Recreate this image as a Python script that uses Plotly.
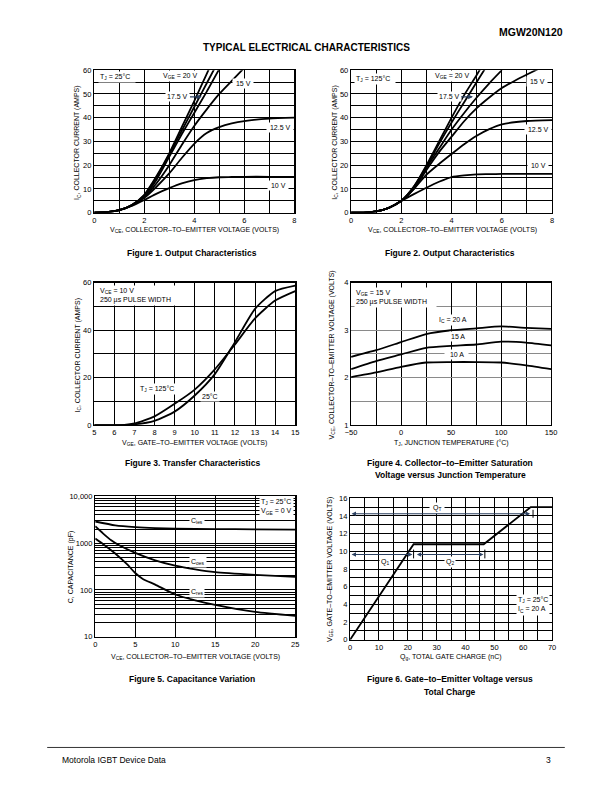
import plotly.graph_objects as go

W, H = 612, 792
FONT = "Liberation Sans Narrow, Liberation Sans, Arial, sans-serif"

# ---------------- Figure 1 data (TJ = 25 C) ----------------
f1_v_full = [0, 0.5, 1.0, 1.5, 2.0, 2.5, 3.0, 3.5, 4.0, 4.5, 5.0, 5.5, 6.0, 7.0, 8.0]
f1_10v = [0, 0.2, 1.0, 2.8, 5.3, 8.0, 10.3, 12.3, 13.7, 14.5, 14.9, 15.0, 15.1, 15.1, 15.1]
f1_12v5 = [0, 0.2, 1.0, 3.0, 6.2, 11.0, 16.5, 23.0, 29.0, 33.5, 36.0, 37.6, 38.6, 39.6, 40.0]
f1_v_15 = [0, 0.5, 1.0, 1.5, 2.0, 2.5, 3.0, 3.5, 4.0, 4.5, 5.0, 5.5, 6.0]
f1_15v = [0, 0.2, 1.0, 3.0, 6.5, 12.5, 20.0, 28.5, 36.5, 43.5, 50.0, 55.5, 61.0]
f1_v_top = [0, 0.5, 1.0, 1.5, 2.0, 2.5, 3.0, 3.5, 4.0, 4.5, 5.0]
f1_17v5 = [0, 0.2, 1.0, 3.1, 7.0, 14.0, 23.5, 33.0, 42.0, 51.0, 60.5]
f1_17v5b = [0, 0.2, 1.0, 3.2, 7.3, 15.0, 24.5, 34.5, 44.5, 54.5, 64.5]
f1_20v = [0, 0.2, 1.0, 3.2, 7.5, 15.5, 25.0, 36.0, 47.0, 58.5, 70.0]

# ---------------- Figure 2 data (TJ = 125 C) ----------------
f2_v_full = [0, 0.5, 1.0, 1.5, 2.0, 2.5, 3.0, 3.5, 4.0, 4.5, 5.0, 5.5, 6.0, 7.0, 8.0]
f2_10v = [0, 0.0, 0.5, 2.0, 5.0, 7.8, 10.5, 13.0, 15.0, 15.7, 16.1, 16.2, 16.3, 16.3, 16.3]
f2_12v5 = [0, 0.0, 0.5, 2.0, 5.0, 10.0, 16.0, 20.5, 24.7, 28.8, 32.4, 35.2, 37.2, 38.6, 39.0]
f2_v_15 = [0, 0.5, 1.0, 1.5, 2.0, 2.5, 3.0, 3.5, 4.0, 4.5, 5.0, 5.5, 6.0, 6.5, 7.0, 7.5]
f2_15v = [0, 0.0, 0.5, 2.0, 5.0, 10.0, 18.0, 25.5, 32.0, 38.5, 44.0, 48.5, 52.5, 55.5, 58.2, 60.8]
f2_v_top = [0, 0.5, 1.0, 1.5, 2.0, 2.5, 3.0, 3.5, 4.0, 4.5, 5.0, 5.5, 6.0]
f2_17v5 = [0, 0.0, 0.5, 2.0, 5.0, 10.5, 19.0, 27.0, 35.0, 42.0, 48.5, 54.5, 60.0]
f2_17v5b = [0, 0.0, 0.5, 2.0, 5.0, 11.0, 19.5, 29.0, 38.0, 46.5, 55.0, 63.5, 72.0]
f2_20v = [0, 0.0, 0.5, 2.0, 5.0, 11.0, 20.0, 30.0, 40.0, 49.5, 58.0, 67.0, 76.0]

# ---------------- Figure 3 data (transfer) ----------------
f3_vge = [5, 6, 6.5, 7, 8, 9, 10, 11, 12, 13, 14, 15]
f3_25c = [0, 0, 0.05, 0.3, 1.8, 5.7, 12.5, 21.5, 35.0, 49.0, 56.5, 58.8]
f3_125c = [0, 0, 0.1, 0.7, 3.7, 9.0, 15.0, 23.5, 34.0, 45.0, 52.5, 56.5]

# ---------------- Figure 4 data (VCE(sat) vs TJ) ----------------
f4_tj = [-50, -25, 0, 25, 50, 75, 100, 125, 150]
f4_20a = [2.44, 2.58, 2.75, 2.92, 3.00, 3.04, 3.08, 3.05, 3.03]
f4_15a = [2.18, 2.35, 2.49, 2.63, 2.67, 2.70, 2.76, 2.74, 2.68]
f4_10a = [2.01, 2.11, 2.23, 2.32, 2.33, 2.33, 2.32, 2.26, 2.18]

# ---------------- Figure 5 data (capacitance) ----------------
f5_vce_ies = [0, 2.5, 5, 7.5, 10, 15, 20, 25]
f5_cies = [2900, 2400, 2200, 2100, 2050, 2000, 1970, 1950]
f5_vce_oes = [0, 1, 2, 3, 5, 7.5, 10, 12.5, 15, 20, 25]
f5_coes = [2300, 1600, 1150, 900, 620, 430, 330, 275, 240, 210, 190]
f5_vce_res = [0, 1, 2.5, 4, 5, 6, 7.5, 10, 12.5, 15, 20, 25]
f5_cres = [1250, 950, 600, 350, 230, 170, 130, 80, 60, 48, 34, 28]

# ---------------- Figure 6 data (gate charge) ----------------
f6_qg = [0, 22.0, 46.3, 62.6, 70]
f6_vge = [0, 10.8, 10.8, 15.0, 15.0]

# ---------------- helpers ----------------
def xd(a, b):
    return [a / W, b / W]

def yd(top, bottom):
    return [1 - bottom / H, 1 - top / H]

def px(x):
    return x / W

def py(y):
    return 1 - y / H

fig = go.Figure()
LINE = dict(color="black", width=1.8, shape="spline", smoothing=0.6)

def add(x, y, n, shape="spline"):
    ln = dict(LINE)
    ln["shape"] = shape
    if shape != "spline":
        ln.pop("smoothing")
    fig.add_trace(go.Scatter(x=x, y=y, mode="lines", line=ln, showlegend=False,
                             hoverinfo="skip",
                             xaxis="x" if n == 1 else f"x{n}",
                             yaxis="y" if n == 1 else f"y{n}"))

for yv in [f1_10v, f1_12v5]:
    add(f1_v_full, yv, 1)
add(f1_v_15, f1_15v, 1)
for yv in [f1_17v5, f1_17v5b, f1_20v]:
    add(f1_v_top, yv, 1)

for yv in [f2_10v, f2_12v5]:
    add(f2_v_full, yv, 2)
add(f2_v_15, f2_15v, 2)
for yv in [f2_17v5, f2_17v5b, f2_20v]:
    add(f2_v_top, yv, 2)

add(f3_vge, f3_25c, 3)
add(f3_vge, f3_125c, 3)

for yv in [f4_20a, f4_15a, f4_10a]:
    add(f4_tj, yv, 4)

add(f5_vce_ies, f5_cies, 5)
add(f5_vce_oes, f5_coes, 5)
add(f5_vce_res, f5_cres, 5)

add(f6_qg, f6_vge, 6, shape="linear")

TICKF = dict(family=FONT, size=7.5, color="black")

def axis(domain, rng, dtick, anchor, minor=None, grid="black", **kw):
    d = dict(domain=domain, range=rng, dtick=dtick, anchor=anchor,
             showline=True, mirror=True, linecolor="black", linewidth=1.3,
             showgrid=True, gridcolor=grid, gridwidth=1, zeroline=False,
             ticks="", tickfont=TICKF, fixedrange=True, layer="below traces")
    if minor is not None:
        d["minor"] = dict(dtick=minor, showgrid=True, gridcolor=grid, gridwidth=1, ticks="")
    d.update(kw)
    return d

layout = dict(
    width=W, height=H, margin=dict(l=0, r=0, t=0, b=0),
    paper_bgcolor="white", plot_bgcolor="white",
    font=dict(family=FONT, color="black", size=7),
    showlegend=False,
)

# Figure 1
layout["xaxis"] = axis(xd(90, 294), [0, 8], 2, "y", minor=1)
layout["yaxis"] = axis(yd(67, 211), [0, 60], 10, "x", minor=5)
# Figure 2
layout["xaxis2"] = axis(xd(352, 557), [0, 8], 2, "y2", minor=1)
layout["yaxis2"] = axis(yd(67, 211), [0, 60], 10, "x2", minor=5)
# Figure 3
layout["xaxis3"] = axis(xd(90, 295), [5, 15], 1, "y3")
layout["yaxis3"] = axis(yd(282, 426), [0, 60], 20, "x3", minor=10)
# Figure 4
layout["xaxis4"] = axis(xd(352, 556), [-50, 150], 50, "y4", minor=25)
layout["yaxis4"] = axis(yd(282, 426), [1, 4], 1, "x4", minor=0.5, grid="#8a8a8a")
# Figure 5
minor_log = [m * 10 ** e for e in range(1, 4) for m in range(2, 10)]
layout["xaxis5"] = axis(xd(91, 295), [0, 25], 5, "y5")
layout["yaxis5"] = dict(domain=yd(498, 640), type="log", range=[1, 4], anchor="x5",
                        tickmode="array", tickvals=[10, 100, 1000, 10000],
                        ticktext=["10", "100", "1000", "10,000"],
                        showline=True, mirror=True, linecolor="black", linewidth=1.3,
                        showgrid=True, gridcolor="black", gridwidth=1, zeroline=False,
                        ticks="", tickfont=TICKF, fixedrange=True,
                        minor=dict(tickmode="array", tickvals=minor_log, showgrid=True,
                                   gridcolor="black", gridwidth=1, ticks=""))
# Figure 6
layout["xaxis6"] = axis(xd(351, 557), [0, 70], 10, "y6", minor=5)
layout["yaxis6"] = axis(yd(500, 643), [0, 16], 2, "x6", minor=1)

fig.update_layout(**layout)

ann = []
TXT = dict(family=FONT, size=7, color="black")

def note(n, x, y, text, xanchor="center", align="center", bg="white", size=7):
    ann.append(dict(x=x, y=y, xref="x" if n == 1 else f"x{n}", yref="y" if n == 1 else f"y{n}",
                    text=text, showarrow=False, xanchor=xanchor, align=align,
                    bgcolor=bg, borderpad=1, font=dict(family=FONT, size=size, color="black")))

def ptext(x, y, text, size=7, bold=False, xanchor="center", angle=0, yanchor="middle"):
    t = f"<b>{text}</b>" if bold else text
    ann.append(dict(x=px(x), y=py(y), xref="paper", yref="paper", text=t, showarrow=False,
                    xanchor=xanchor, yanchor=yanchor, textangle=angle,
                    font=dict(family=FONT, size=size, color="black")))

# Figure 1 labels
note(1, 0.15, 57, "T<sub>J</sub> = 25°C  ", xanchor="left")
note(1, 3.45, 57.5, "V<sub>GE</sub> = 20 V")
note(1, 5.95, 54.5, " 15 V ")
note(1, 7.45, 35.8, " 12.5 V ")
note(1, 7.35, 11.4, " 10 V ")
ann.append(dict(x=4.3, y=48.8, ax=3.35, ay=48.8, xref="x", yref="y", axref="x", ayref="y",
                text="17.5 V", showarrow=True, arrowhead=2, arrowsize=0.8, arrowwidth=1.2,
                bgcolor="white", borderpad=1, font=TXT))
# Figure 2 labels
note(2, 0.1, 56.5, "T<sub>J</sub> = 125°C  ", xanchor="left")
note(2, 4.0, 57.5, "V<sub>GE</sub> = 20 V")
note(2, 7.4, 55.4, " 15 V ")
note(2, 7.45, 35.0, " 12.5 V ")
note(2, 7.45, 20.0, " 10 V ")
ann.append(dict(x=4.85, y=48.8, ax=3.9, ay=48.8, xref="x2", yref="y2", axref="x2", ayref="y2",
                text="17.5 V", showarrow=True, arrowhead=2, arrowsize=0.8, arrowwidth=1.2,
                bgcolor="white", borderpad=1, font=TXT))
# Figure 3 labels
note(3, 5.2, 54.5, "V<sub>CE</sub> = 10 V<br>250 µs PULSE WIDTH    ", xanchor="left", align="left")
note(3, 8.1, 15.3, "T<sub>J</sub> = 125°C")
note(3, 10.75, 12.0, "25°C")
# Figure 4 labels
note(4, -47, 3.7, "V<sub>GE</sub> = 15 V<br>250 µs PULSE WIDTH    ", xanchor="left", align="left")
note(4, 52, 3.22, "I<sub>C</sub> = 20 A")
note(4, 57, 2.87, "15 A")
note(4, 55, 2.49, "  10 A  ")
# Figure 5 labels
note(5, 24.8, 3.78, "T<sub>J</sub> = 25°C<br>V<sub>GE</sub> = 0 V", xanchor="right", align="left")
note(5, 12.7, 3.48, "C<sub>ies</sub>")
note(5, 12.8, 2.59, "C<sub>oes</sub>")
note(5, 12.7, 1.95, "C<sub>res</sub>")
# Figure 6 labels
note(6, 30.2, 14.9, " Q<sub>T</sub> ")
note(6, 12.0, 8.8, "Q<sub>1</sub>")
note(6, 34.7, 8.8, "Q<sub>2</sub>")
note(6, 69.3, 3.9, "T<sub>J</sub> = 25°C<br>I<sub>C</sub> = 20 A", xanchor="right", align="left")
for (x0, x1, yy) in [(0, 62.4, 14.25), (0, 21.6, 9.65), (22.6, 46.2, 9.65)]:
    ann.append(dict(x=x1, y=yy, ax=x0, ay=yy, xref="x6", yref="y6", axref="x6", ayref="y6",
                    text="", showarrow=True, arrowhead=2, startarrowhead=2, arrowside="end+start",
                    arrowsize=0.8, startarrowsize=0.8, arrowwidth=1.1))

# Axis titles
ptext(192, 229, "V<sub>CE</sub>, COLLECTOR–TO–EMITTER VOLTAGE (VOLTS)")
ptext(455, 229, "V<sub>CE</sub>, COLLECTOR–TO–EMITTER VOLTAGE (VOLTS)")
ptext(192, 444, "V<sub>GE</sub>, GATE–TO–EMITTER VOLTAGE (VOLTS)")
ptext(454, 444, "T<sub>J</sub>, JUNCTION TEMPERATURE (°C)")
ptext(193, 661, "V<sub>CE</sub>, COLLECTOR–TO–EMITTER VOLTAGE (VOLTS)")
ptext(454, 661, "Q<sub>g</sub>, TOTAL GATE CHARGE (nC)")
ptext(73, 140, "I<sub>C</sub>, COLLECTOR CURRENT (AMPS)", angle=-90)
ptext(336, 140, "I<sub>C</sub>, COLLECTOR CURRENT (AMPS)", angle=-90)
ptext(73, 355, "I<sub>C</sub>, COLLECTOR CURRENT (AMPS)", angle=-90)
ptext(332, 355, "V<sub>CE</sub>, COLLECTOR–TO–EMITTER VOLTAGE (VOLTS)", angle=-90)
ptext(66, 570, "C, CAPACITANCE (pF)", angle=-90)
ptext(330, 572, "V<sub>GE</sub>, GATE–TO–EMITTER VOLTAGE (VOLTS)", angle=-90)

# Captions
ptext(190, 252, "Figure 1. Output Characteristics", size=8.5, bold=True)
ptext(453, 252, "Figure 2. Output Characteristics", size=8.5, bold=True)
ptext(190, 464, "Figure 3. Transfer Characteristics", size=8.5, bold=True)
ptext(453, 464, "Figure 4. Collector–to–Emitter Saturation", size=8.5, bold=True)
ptext(453, 476, "Voltage versus Junction Temperature", size=8.5, bold=True)
ptext(190, 683, "Figure 5. Capacitance Variation", size=8.5, bold=True)
ptext(453, 683, "Figure 6. Gate–to–Emitter Voltage versus", size=8.5, bold=True)
ptext(453, 696, "Total Charge", size=8.5, bold=True)

# Header / footer
ptext(570, 28, "MGW20N120", size=10.5, bold=True, xanchor="right")
ptext(306, 44, "TYPICAL ELECTRICAL CHARACTERISTICS", size=10, bold=True)
ptext(55, 765, "Motorola IGBT Device Data", size=8.5, xanchor="left")
ptext(553, 765, "3", size=8.5)

shapes = [
    dict(type="line", xref="paper", yref="paper", x0=px(42), x1=px(570), y0=py(752), y1=py(752),
         line=dict(color="black", width=0.8)),
]
# small end ticks on gate charge arrows
for (xx, y0, y1) in [(22.0, 9.2, 10.2), (46.7, 9.2, 10.2), (63.4, 13.8, 14.7)]:
    shapes.append(dict(type="line", xref="x6", yref="y6", x0=xx, x1=xx, y0=y0, y1=y1,
                       line=dict(color="black", width=1)))

fig.update_layout(annotations=ann, shapes=shapes)

PAGE_CSS = (
    "var s=document.createElement('style');"
    "s.textContent='html,body{margin:0!important;padding:0!important;overflow:hidden!important;"
    "width:612px!important;height:792px!important;}';"
    "document.head.appendChild(s);"
)
fig.write_html("out.html", config={"displayModeBar": False, "staticPlot": True},
               post_script=PAGE_CSS)
